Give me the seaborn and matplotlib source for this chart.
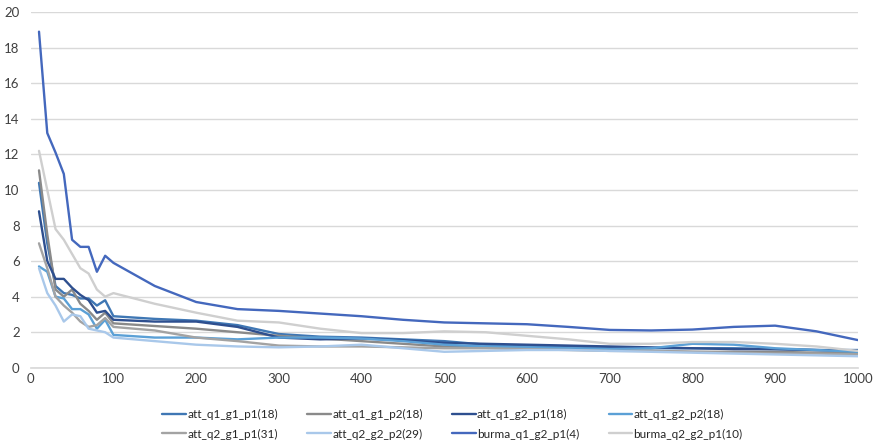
import matplotlib
matplotlib.use("Agg")
import matplotlib.pyplot as plt
import seaborn as sns
import pandas as pd

# Sample counts on the x axis
x_vals = [10, 20, 30, 40, 50, 60, 70, 80, 90, 100, 150, 200, 250, 300, 350, 400,
          450, 500, 550, 600, 650, 700, 750, 800, 850, 900, 950, 1000]

att_q1_g1_p1 = [10.4, 7.0, 4.6, 4.2, 4.1, 3.9, 3.9, 3.5, 3.8, 2.9, 2.75, 2.65, 2.4, 1.9,
                1.75, 1.7, 1.6, 1.5, 1.3, 1.25, 1.2, 1.15, 1.1, 1.1, 1.1, 1.05, 1.0, 1.0]
att_q1_g1_p2 = [11.1, 7.5, 4.4, 4.0, 4.4, 3.6, 3.2, 2.7, 3.1, 2.5, 2.35, 2.2, 2.0, 1.8,
                1.65, 1.5, 1.35, 1.2, 1.15, 1.1, 1.05, 1.0, 0.95, 0.9, 0.9, 0.9, 0.85, 0.85]
att_q1_g2_p1 = [8.8, 6.0, 5.0, 5.0, 4.5, 4.1, 3.8, 3.1, 3.2, 2.7, 2.6, 2.6, 2.3, 1.7,
                1.6, 1.65, 1.55, 1.4, 1.35, 1.3, 1.25, 1.2, 1.15, 1.1, 1.05, 1.05, 1.0, 0.95]
att_q1_g2_p2 = [5.7, 5.4, 4.0, 3.9, 3.3, 3.3, 3.0, 2.2, 2.7, 1.85, 1.7, 1.7, 1.6, 1.7,
                1.7, 1.65, 1.5, 1.3, 1.2, 1.15, 1.1, 1.05, 1.1, 1.35, 1.3, 1.1, 1.0, 0.9]
att_q2_g1_p1 = [7.0, 5.6, 4.0, 3.5, 3.1, 2.6, 2.3, 2.4, 2.8, 2.3, 2.1, 1.7, 1.5, 1.25,
                1.2, 1.2, 1.15, 1.1, 1.1, 1.05, 1.0, 0.95, 0.95, 0.9, 0.85, 0.8, 0.8, 0.75]
att_q2_g2_p2 = [5.6, 4.2, 3.5, 2.6, 3.0, 2.9, 2.2, 2.1, 2.0, 1.7, 1.5, 1.3, 1.2, 1.15,
                1.2, 1.3, 1.1, 0.9, 0.95, 1.0, 1.0, 0.95, 0.9, 0.85, 0.8, 0.75, 0.7, 0.65]
burma_q1_g2_p1 = [18.9, 13.2, 12.1, 10.9, 7.2, 6.8, 6.8, 5.4, 6.3, 5.9, 4.6, 3.7, 3.3, 3.2,
                  3.05, 2.9, 2.7, 2.55, 2.5, 2.45, 2.3, 2.13, 2.1, 2.15, 2.3, 2.37, 2.05, 1.56]
burma_q2_g2_p1 = [12.2, 10.0, 7.8, 7.2, 6.4, 5.6, 5.3, 4.4, 4.0, 4.2, 3.6, 3.1, 2.65, 2.55,
                  2.2, 1.95, 1.95, 2.05, 2.0, 1.8, 1.6, 1.35, 1.35, 1.45, 1.45, 1.35, 1.2, 0.95]

series_names = ["att_q1_g1_p1(18)", "att_q1_g1_p2(18)", "att_q1_g2_p1(18)", "att_q1_g2_p2(18)",
                "att_q2_g1_p1(31)", "att_q2_g2_p2(29)", "burma_q1_g2_p1(4)", "burma_q2_g2_p1(10)"]
series_values = [att_q1_g1_p1, att_q1_g1_p2, att_q1_g2_p1, att_q1_g2_p2,
                 att_q2_g1_p1, att_q2_g2_p2, burma_q1_g2_p1, burma_q2_g2_p1]
colors = ["#3f77b4", "#8a8a8a", "#2e4f8f", "#5ba0d6",
          "#a3a3a3", "#a9c8ea", "#4468bd", "#cfcfcf"]

x_ticks = [0, 100, 200, 300, 400, 500, 600, 700, 800, 900, 1000]
y_ticks = [0, 2, 4, 6, 8, 10, 12, 14, 16, 18, 20]

rows = []
for name, vals in zip(series_names, series_values):
    for xv, yv in zip(x_vals, vals):
        rows.append({"x": xv, "y": yv, "series": name})
df = pd.DataFrame(rows)

sns.set_theme(style="white")
plt.rcParams["font.family"] = ["Lato", "DejaVu Sans"]

fig = plt.figure(figsize=(8.78, 4.48), dpi=100)
ax = fig.add_axes([0.035, 0.179, 0.942, 0.794])

sns.lineplot(data=df, x="x", y="y", hue="series", hue_order=series_names,
             palette=dict(zip(series_names, colors)), linewidth=1.7, ax=ax,
             legend=True)

ax.set_xlim(0, 1000)
ax.set_ylim(0, 20)
ax.set_xticks(x_ticks)
ax.set_yticks(y_ticks)
ax.set_xlabel("")
ax.set_ylabel("")
ax.grid(axis="y", color="#d9d9d9", linewidth=1.0)
ax.set_axisbelow(True)
for side in ["top", "right", "left"]:
    ax.spines[side].set_visible(False)
ax.spines["bottom"].set_color("#d9d9d9")
ax.tick_params(axis="both", length=0, labelsize=9.5, colors="#404040", pad=4)
ax.tick_params(axis="y", pad=8)

# Legend entries laid out row by row, four per row
handles, labels = ax.get_legend_handles_labels()
order = [0, 4, 1, 5, 2, 6, 3, 7]
ax.legend([handles[i] for i in order], [labels[i] for i in order],
          ncol=4, loc="upper center", bbox_to_anchor=(0.51, -0.085),
          frameon=False, fontsize=8.5, handlelength=2.0, handletextpad=0.1,
          columnspacing=2.5, labelspacing=0.75)

fig.savefig("out.png", dpi=100)
